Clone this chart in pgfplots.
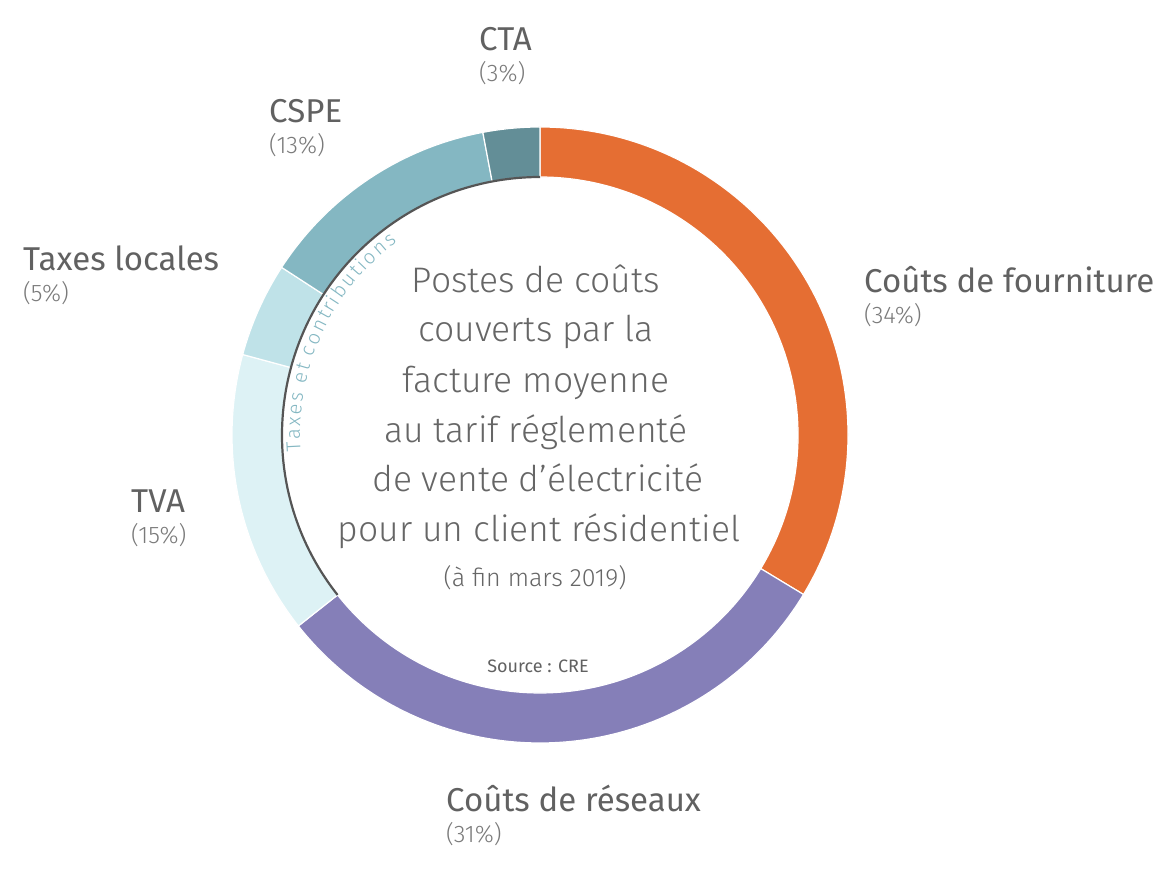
\documentclass[border=0pt]{standalone}
\usepackage{pgfplots}
\pgfplotsset{compat=1.18}
\usepackage{pgfplotstable}
\usepackage{fontspec}
\usetikzlibrary{decorations.text}
\setmainfont{Fira Sans}
\newfontfamily\lightfont{Fira Sans Light}

\definecolor{seg0}{HTML}{E56E33}
\definecolor{seg1}{HTML}{857FB8}
\definecolor{seg2}{HTML}{DDF2F5}
\definecolor{seg3}{HTML}{BFE2E8}
\definecolor{seg4}{HTML}{84B7C2}
\definecolor{seg5}{HTML}{638E97}
\definecolor{ringline}{HTML}{555555}
\definecolor{labgray}{HTML}{616161}
\definecolor{pctgray}{HTML}{7A7A7A}
\definecolor{midgray}{HTML}{666666}

% shares of the average bill (labels sum to 101)
\pgfplotstableread{
name value
fourniture 34
reseaux 31
tva 15
locales 5
cspe 13
cta 3
}\parts

\tikzset{
  lab/.style={anchor=base west, text=labgray, inner sep=0, font=\fontsize{33}{38}\selectfont},
  pct/.style={anchor=base west, text=pctgray, inner sep=0, font=\lightfont\fontsize{24}{28}\selectfont},
  mid/.style={anchor=base, text=midgray, inner sep=0, font=\lightfont\fontsize{35.5}{42}\selectfont},
}

\begin{document}
\begin{tikzpicture}
% cumulative angles, clockwise from the top
\gdef\total{0}
\foreach \i in {0,...,5}{%
  \pgfplotstablegetelem{\i}{value}\of\parts
  \pgfmathsetmacro\tsum{\total+\pgfplotsretval}%
  \xdef\total{\tsum}}
\gdef\cum{0}
\foreach \i in {0,...,5}{%
  \pgfplotstablegetelem{\i}{value}\of\parts
  \pgfmathsetmacro\sa{90-\cum/\total*360}%
  \pgfmathsetmacro\cc{\cum+\pgfplotsretval}%
  \pgfmathsetmacro\ea{90-\cc/\total*360}%
  \expandafter\xdef\csname segS\i\endcsname{\sa}%
  \expandafter\xdef\csname segE\i\endcsname{\ea}%
  \xdef\cum{\cc}}

\begin{axis}[
  x=1pt, y=1pt,
  xmin=0, xmax=1170, ymin=0, ymax=875,
  disabledatascaling,
  hide axis,
  clip=false,
]
\pgfplotsinvokeforeach{0,...,5}{
  \fill[seg#1, draw=white, line width=1.2pt]
    (axis cs:540,440) ++(\csname segS#1\endcsname:308pt)
    arc[start angle=\csname segS#1\endcsname, end angle=\csname segE#1\endcsname, radius=308pt]
    -- ++(\csname segE#1\endcsname+180:50pt)
    arc[start angle=\csname segE#1\endcsname, end angle=\csname segS#1\endcsname, radius=258pt]
    -- cycle;
}
% inner line under the taxes group
\draw[ringline, line width=2.2pt]
  (axis cs:540,440) ++(\csname segS2\endcsname:258pt)
  arc[start angle=\csname segS2\endcsname, end angle=-270, radius=258pt];

% centre text
\node[mid] at (axis cs:536,582) {Postes de coûts};
\node[mid] at (axis cs:536,533) {couverts par la};
\node[mid] at (axis cs:536,482) {facture moyenne};
\node[mid] at (axis cs:536,432) {au tarif réglementé};
\node[mid] at (axis cs:538,383) {de vente d’électricité};
\node[mid] at (axis cs:539,333) {pour un client résidentiel};
\node[anchor=base, text=midgray, inner sep=0, font=\lightfont\fontsize{25}{30}\selectfont]
  at (axis cs:535,288) {(à fin mars 2019)};
\node[anchor=base, text=labgray, inner sep=0, font=\fontsize{18}{22}\selectfont]
  at (axis cs:538,202) {Source : CRE};

% segment labels
\node[lab] at (axis cs:864,582) {Coûts de fourniture};
\node[pct] at (axis cs:864,551) {(34\%)};
\node[lab] at (axis cs:446,63) {Coûts de réseaux};
\node[pct] at (axis cs:446,32) {(31\%)};
\node[lab] at (axis cs:131,362) {TVA};
\node[pct] at (axis cs:131,331) {(15\%)};
\node[lab] at (axis cs:23,604) {Taxes locales};
\node[pct] at (axis cs:23,573) {(5\%)};
\node[lab] at (axis cs:269,752) {CSPE};
\node[pct] at (axis cs:269,721) {(13\%)};
\node[lab] at (axis cs:479,824) {CTA};
\node[pct] at (axis cs:479,793) {(3\%)};
\end{axis}
% group label along the inner edge (axis cs and canvas coincide: 1 unit = 1pt)
\path[decorate, decoration={text effects along path,
    text={Taxes et contributions},
    text effects/.cd,
      text along path, fit text to path,
      characters={text=seg4, inner sep=0pt,
        font=\lightfont\fontsize{20}{24}\selectfont}}]
  (540pt,440pt) ++(184:240pt) arc[start angle=184, end angle=126.5, radius=240pt];
\pgfresetboundingbox
\path (0,0) rectangle (1170pt,875pt);
\end{tikzpicture}
\end{document}
